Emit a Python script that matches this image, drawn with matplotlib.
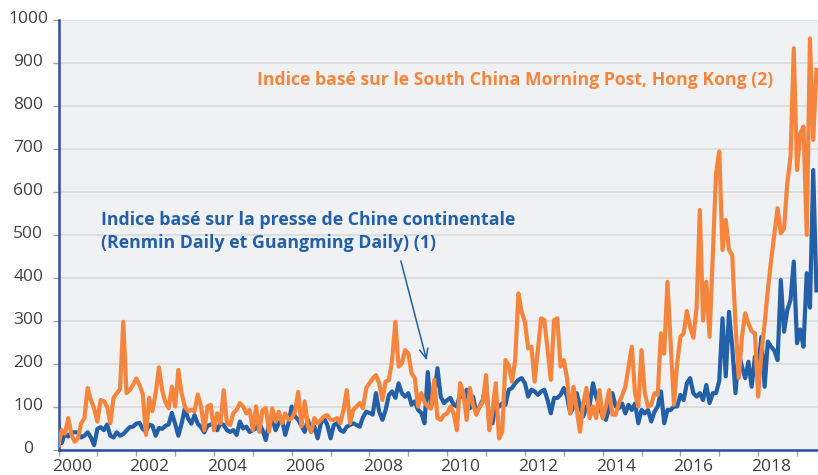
import numpy as np
import pandas as pd
import matplotlib
matplotlib.use("Agg")
import matplotlib.pyplot as plt
import matplotlib.transforms as mtransforms

plt.rcParams['font.family'] = ['Open Sans', 'DejaVu Sans']

# Monthly values, January 2000 onwards
start_month = "2000-01-01"
hk_index = [
    10, 45, 37, 73, 34, 18, 26, 61, 73, 143, 115, 96,          # 2000
    65, 115, 112, 100, 61, 120, 131, 140, 297, 131, 138, 150,  # 2001
    165, 150, 130, 34, 120, 89, 131, 191, 138, 110, 96, 146,   # 2002
    100, 185, 131, 100, 89, 92, 89, 128, 100, 45, 100, 104,    # 2003
    45, 84, 61, 138, 61, 57, 85, 92, 108, 100, 84, 92,         # 2004
    45, 100, 41, 92, 96, 41, 96, 65, 88, 61, 84, 69,           # 2005
    73, 88, 134, 54, 112, 54, 41, 73, 61, 69, 77, 80,          # 2006
    69, 69, 73, 61, 92, 138, 61, 92, 100, 108, 96, 143,        # 2007
    154, 165, 173, 154, 115, 158, 161, 208, 297, 193, 200, 231,  # 2008
    223, 177, 166, 100, 131, 110, 100, 95, 162, 73, 69, 80,    # 2009
    84, 100, 84, 45, 154, 131, 69, 143, 104, 81, 100, 110,     # 2010
    173, 45, 92, 154, 26, 41, 208, 196, 158, 208, 363, 320,    # 2011
    297, 235, 239, 158, 231, 305, 301, 231, 162, 301, 305, 193,  # 2012
    208, 166, 84, 146, 92, 41, 108, 143, 73, 100, 73, 138,     # 2013
    73, 100, 138, 81, 81, 108, 125, 146, 193, 239, 130, 100,   # 2014
    231, 131, 100, 104, 131, 127, 270, 223, 390, 246, 104, 200,  # 2015
    262, 270, 322, 285, 260, 330, 557, 300, 390, 262, 450, 642,  # 2016
    693, 464, 534, 464, 452, 293, 166, 262, 317, 293, 275, 270,  # 2017
    123, 224, 293, 371, 440, 500, 561, 503, 514, 619, 681, 933,  # 2018
    650, 735, 751, 499, 956, 720, 883,                          # 2019
]
mainland_index = [
    60, 15, 38, 30, 40, 40, 40, 28, 32, 40, 28, 10,            # 2000
    48, 52, 45, 58, 32, 28, 40, 32, 36, 44, 52, 53,            # 2001
    60, 62, 48, 42, 58, 55, 32, 50, 48, 55, 58, 85,            # 2002
    60, 32, 60, 95, 72, 60, 80, 60, 52, 40, 55, 58,            # 2003
    61, 45, 61, 57, 45, 41, 45, 34, 65, 49, 53, 41,            # 2004
    45, 49, 61, 45, 22, 61, 73, 45, 61, 69, 34, 61,            # 2005
    100, 77, 69, 55, 41, 69, 41, 53, 26, 61, 73, 57,           # 2006
    26, 57, 61, 45, 41, 53, 57, 61, 57, 53, 75, 88,            # 2007
    85, 81, 131, 88, 69, 92, 127, 135, 120, 154, 131, 123,     # 2008
    131, 104, 112, 92, 85, 61, 180, 100, 127, 189, 123, 108,   # 2009
    115, 120, 104, 100, 131, 120, 139, 96, 123, 84, 100, 115,  # 2010
    154, 61, 61, 107, 100, 107, 104, 139, 143, 154, 162, 166,  # 2011
    154, 123, 139, 135, 127, 135, 139, 115, 84, 120, 120, 127,  # 2012
    143, 123, 84, 100, 131, 100, 77, 100, 104, 154, 123, 100,  # 2013
    77, 69, 96, 131, 100, 96, 107, 84, 104, 92, 107, 61,       # 2014
    92, 84, 92, 65, 88, 100, 135, 61, 92, 92, 100, 100,        # 2015
    127, 115, 154, 166, 131, 123, 131, 115, 150, 108, 131, 131,  # 2016
    160, 305, 170, 320, 239, 131, 224, 193, 166, 204, 146, 216,  # 2017
    185, 262, 146, 251, 239, 230, 208, 394, 274, 324, 348, 437,  # 2018
    247, 279, 239, 410, 330, 650, 370,                          # 2019
]
year_labels = ["2000", "2002", "2004", "2006", "2008", "2010", "2012", "2014", "2016", "2018"]
y_ticks = [0, 100, 200, 300, 400, 500, 600, 700, 800, 900, 1000]

label_hk = "Indice basé sur le South China Morning Post, Hong Kong (2)"
label_ml_1 = "Indice basé sur la presse de Chine continentale"
label_ml_2 = "(Renmin Daily et Guangming Daily) (1)"

ORANGE = "#F5853D"
BLUE = "#2460A7"
SPINE = "#2B4EA0"
BG = "#F0F1F3"
GRID = "#DCDDDF"
TXT = "#404040"

dates = pd.date_range(start_month, periods=len(hk_index), freq="MS")
t = dates.year + (dates.month - 1) / 12.0

fig = plt.figure(figsize=(8.18, 4.75), dpi=100)
ax = fig.add_axes([58.5 / 818, 25.5 / 475, 1 - 58.5 / 818, (449.5 - 19.5) / 475])
ax.set_facecolor(BG)

ax.plot(t, mainland_index, color=BLUE, lw=3.0, zorder=3, solid_joinstyle="round")
ax.plot(t, hk_index, color=ORANGE, lw=3.0, zorder=4, solid_joinstyle="round")

ax.set_xlim(2000, 2019.54)
ax.set_ylim(0, 1000)

# grid
ax.set_yticks(y_ticks)
ax.yaxis.grid(True, color=GRID, lw=1.4, zorder=0)
ax.set_axisbelow(True)

# spines
for s in ["top", "right"]:
    ax.spines[s].set_visible(False)
for s in ["left", "bottom"]:
    ax.spines[s].set_color(SPINE)
    ax.spines[s].set_linewidth(1.8)
ax.spines["bottom"].set_zorder(5)

# y tick labels
ax.tick_params(axis="y", length=4.3, width=1.0, color="#A0A0A0", pad=17.5,
               labelsize=12.5, labelcolor=TXT)
offset = mtransforms.ScaledTranslation(0, 2.5 / 100, fig.dpi_scale_trans)
for lab in ax.get_yticklabels():
    lab.set_horizontalalignment("center")
    lab.set_transform(lab.get_transform() + offset)

# x ticks: marks at every year, labels between
years = list(range(2000, 2020))
ax.set_xticks(years)
ax.set_xticklabels([])
ax.tick_params(axis="x", which="major", length=4.3, width=1.0, color="#A0A0A0")
ax.set_xticks([int(y) + 0.34 for y in year_labels], minor=True)
ax.set_xticklabels(year_labels, minor=True)
ax.tick_params(axis="x", which="minor", length=0, pad=6.5, labelsize=12.5, labelcolor=TXT)

# annotations
ax.text(2005.10, 859, label_hk, color=ORANGE, fontsize=12.7, fontweight="bold",
        ha="left", va="center", zorder=6)
ax.text(2001.09, 534, label_ml_1, color=BLUE, fontsize=12.75, fontweight="bold",
        ha="left", va="center", zorder=6)
ax.text(2001.09, 480, label_ml_2, color=BLUE, fontsize=12.75, fontweight="bold",
        ha="left", va="center", zorder=6)
ax.annotate("", xy=(2009.49, 201), xytext=(2008.79, 445),
            arrowprops=dict(arrowstyle="->,head_length=0.7,head_width=0.3",
                            color=BLUE, lw=1.1), zorder=6)

fig.savefig("out.png", dpi=100)
